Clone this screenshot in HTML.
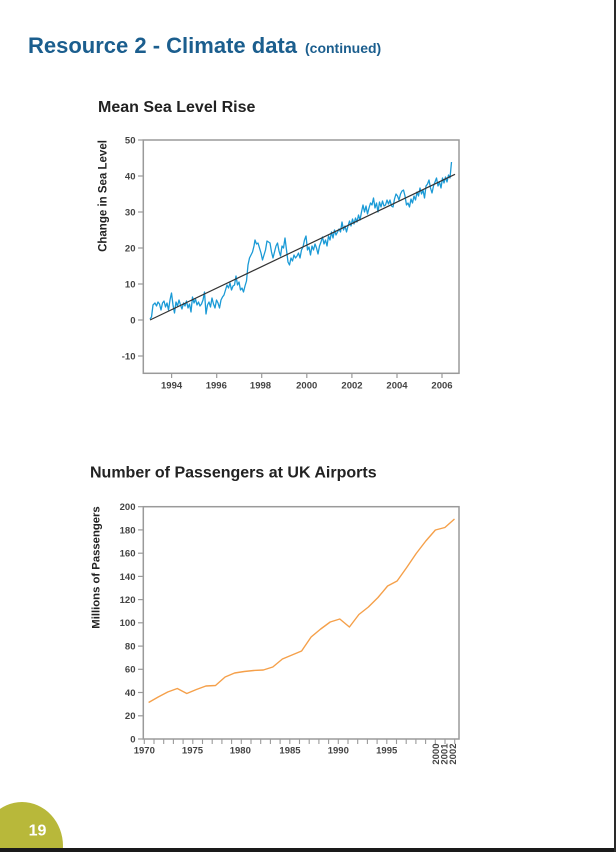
<!DOCTYPE html>
<html><head><meta charset="utf-8"><style>
html,body{margin:0;padding:0;background:#fff;}
svg{display:block;}
text{font-family:"Liberation Sans",sans-serif;}
</style></head><body>
<svg width="616" height="852" viewBox="0 0 616 852" xmlns="http://www.w3.org/2000/svg">
<rect width="616" height="852" fill="#fff"/>
<!-- Titles -->
<text x="28" y="53" font-size="22" font-weight="bold" fill="#1b5e8e">Resource 2 - Climate data</text>
<text x="305" y="53" font-size="14" font-weight="bold" fill="#1b5e8e">(continued)</text>
<text x="98" y="112" font-size="16" font-weight="bold" fill="#222">Mean Sea Level Rise</text>
<text x="90" y="477.5" font-size="16" font-weight="bold" fill="#222">Number of Passengers at UK Airports</text>

<!-- Chart 1 frame -->
<rect x="143.3" y="140" width="315.7" height="233.3" fill="none" stroke="#9a9a9a" stroke-width="1.5"/>
<g stroke="#9a9a9a" stroke-width="1.2">
<line x1="138" y1="140" x2="143" y2="140"/><line x1="138" y1="176" x2="143" y2="176"/>
<line x1="138" y1="212" x2="143" y2="212"/><line x1="138" y1="248" x2="143" y2="248"/>
<line x1="138" y1="284" x2="143" y2="284"/><line x1="138" y1="320" x2="143" y2="320"/>
<line x1="138" y1="356" x2="143" y2="356"/>
<line x1="171.6" y1="373" x2="171.6" y2="378"/><line x1="216.7" y1="373" x2="216.7" y2="378"/>
<line x1="261.7" y1="373" x2="261.7" y2="378"/><line x1="306.8" y1="373" x2="306.8" y2="378"/>
<line x1="351.9" y1="373" x2="351.9" y2="378"/><line x1="397" y1="373" x2="397" y2="378"/>
<line x1="442" y1="373" x2="442" y2="378"/>
</g>
<g font-size="9.5" font-weight="bold" fill="#444" text-anchor="end">
<text x="135.5" y="143.4">50</text><text x="135.5" y="179.4">40</text>
<text x="135.5" y="215.4">30</text><text x="135.5" y="251.4">20</text>
<text x="135.5" y="287.4">10</text><text x="135.5" y="323.4">0</text>
<text x="135.5" y="359.4">-10</text>
</g>
<g font-size="9.5" font-weight="bold" fill="#444" text-anchor="middle">
<text x="171.6" y="388.5">1994</text><text x="216.3" y="388.5">1996</text>
<text x="260.5" y="388.5">1998</text><text x="306.7" y="388.5">2000</text>
<text x="352" y="388.5">2002</text><text x="397" y="388.5">2004</text>
<text x="442" y="388.5">2006</text>
</g>
<text transform="translate(106.5,196) rotate(-90)" font-size="11.5" font-weight="bold" fill="#222" text-anchor="middle">Change in Sea Level</text>

<polyline fill="none" stroke="#1a9ad6" stroke-width="1.3" stroke-linejoin="round" points="150,319 151.5,317 153,305 155,303 156.5,306 158,302 159.5,304 161,310 162.5,303 164,301 165.5,307 167,303 168.5,310 170,300 171.5,293 173,305 174.5,313 176,302 177.5,306 179,300 180.5,305 182,309 183.5,303 185,306 186.5,301 188,308 189.5,304 191,312 192.5,297 194,303 195.5,299 197,305 198.5,302 200,306 201.5,304 203,300 204.5,292 206,314 207.5,305 209,302 210.5,307 212,298 213.5,304 215,308 216.5,300 218,303 219.5,308 221,300 222.5,297 224,295 225.5,290 227,285 228.5,288 230,283 231.5,290 233,286 234.5,285 236,276 237.5,285 239,282 240.5,290 242,288 243.5,292 245,286 246.5,281 248,265 249.5,258 251,255 252.5,252 254,246 255,240 256.5,244 258,243 259.5,248 261,253 262.5,260 264,255 265.5,250 267,241 268.5,242 270,243 271.5,252 273,258 274.5,252 276,246 277.5,243 279,251 280.5,256 282,246 283.5,248 285,238 286.5,250 288,262 289.5,265 291,258 292.5,261 294,255 295.5,258 297,256 298.5,253 300,258 301.5,250 303,247 304.5,240 306,236 307.5,250 309,247 310.5,255 312,246 313.5,250 315,244 316.5,248 318,254 319.5,246 321,242 322.5,237 324,244 325.5,240 327,246 328.5,236 330,240 331.5,232 333,238 334.5,230 336,235 337.5,232 339,229 340.5,232 342,222 343.5,230 345,226 346.5,232 348,226 349.5,221 351,226 352.5,219 354,224 355.5,218 357,222 358.5,215 360,220 361.5,212 363,205 364.5,212 366,206 367.5,214 369,208 370.5,203 372,205 373.5,198 375,208 376.5,203 378,212 379.5,202 381,207 382.5,201 384,206 385.5,205 387,200 388.5,204 390,200 391.5,206 393,207 394.5,199 396,194 397.5,196 399,200 400.5,194 402,191 403.5,190 405,196 406.5,205 408,203 409.5,207 411,199 412.5,203 414,196 415.5,200 417,192 418.5,196 420,188 421.5,194 423,190 424.5,198 426,186 427.5,184 429,180 430.5,188 432,193 433.5,186 435,182 436.5,178 438,186 439.5,182 441,188 442.5,178 444,183 445.5,177 447,182 448.5,175 450,178 451.5,162"/>
<line x1="150" y1="320" x2="455" y2="174.3" stroke="#333" stroke-width="1.2"/>

<!-- Chart 2 frame -->
<rect x="143.3" y="506.7" width="315.7" height="232.3" fill="none" stroke="#9a9a9a" stroke-width="1.5"/>
<g stroke="#9a9a9a" stroke-width="1.2">
<line x1="138" y1="506.7" x2="143" y2="506.7"/><line x1="138" y1="529.9" x2="143" y2="529.9"/>
<line x1="138" y1="553.2" x2="143" y2="553.2"/><line x1="138" y1="576.4" x2="143" y2="576.4"/>
<line x1="138" y1="599.6" x2="143" y2="599.6"/><line x1="138" y1="622.8" x2="143" y2="622.8"/>
<line x1="138" y1="646.1" x2="143" y2="646.1"/><line x1="138" y1="669.3" x2="143" y2="669.3"/>
<line x1="138" y1="692.5" x2="143" y2="692.5"/><line x1="138" y1="715.8" x2="143" y2="715.8"/>
<line x1="138" y1="739" x2="143" y2="739"/>
</g>
<g stroke="#9a9a9a" stroke-width="1.1">
<line x1="144.3" y1="739" x2="144.3" y2="744"/><line x1="154" y1="739" x2="154" y2="744"/><line x1="163.7" y1="739" x2="163.7" y2="744"/><line x1="173.4" y1="739" x2="173.4" y2="744"/><line x1="183.1" y1="739" x2="183.1" y2="744"/><line x1="192.8" y1="739" x2="192.8" y2="744"/><line x1="202.5" y1="739" x2="202.5" y2="744"/><line x1="212.2" y1="739" x2="212.2" y2="744"/><line x1="221.9" y1="739" x2="221.9" y2="744"/><line x1="231.6" y1="739" x2="231.6" y2="744"/><line x1="241.3" y1="739" x2="241.3" y2="744"/><line x1="251" y1="739" x2="251" y2="744"/><line x1="260.7" y1="739" x2="260.7" y2="744"/><line x1="270.4" y1="739" x2="270.4" y2="744"/><line x1="280.1" y1="739" x2="280.1" y2="744"/><line x1="289.8" y1="739" x2="289.8" y2="744"/><line x1="299.5" y1="739" x2="299.5" y2="744"/><line x1="309.2" y1="739" x2="309.2" y2="744"/><line x1="318.9" y1="739" x2="318.9" y2="744"/><line x1="328.6" y1="739" x2="328.6" y2="744"/><line x1="338.3" y1="739" x2="338.3" y2="744"/><line x1="348" y1="739" x2="348" y2="744"/><line x1="357.7" y1="739" x2="357.7" y2="744"/><line x1="367.4" y1="739" x2="367.4" y2="744"/><line x1="377.1" y1="739" x2="377.1" y2="744"/><line x1="386.8" y1="739" x2="386.8" y2="744"/><line x1="396.5" y1="739" x2="396.5" y2="744"/><line x1="406.2" y1="739" x2="406.2" y2="744"/><line x1="415.9" y1="739" x2="415.9" y2="744"/><line x1="425.6" y1="739" x2="425.6" y2="744"/><line x1="435.3" y1="739" x2="435.3" y2="744"/><line x1="445" y1="739" x2="445" y2="744"/><line x1="454.7" y1="739" x2="454.7" y2="744"/>
</g>
<g font-size="9.5" font-weight="bold" fill="#444" text-anchor="end">
<text x="135.5" y="510.1">200</text><text x="135.5" y="533.3">180</text>
<text x="135.5" y="556.6">160</text><text x="135.5" y="579.8">140</text>
<text x="135.5" y="603">120</text><text x="135.5" y="626.2">100</text>
<text x="135.5" y="649.5">80</text><text x="135.5" y="672.7">60</text>
<text x="135.5" y="695.9">40</text><text x="135.5" y="719.2">20</text>
<text x="135.5" y="742.4">0</text>
</g>
<g font-size="9.5" font-weight="bold" fill="#444" text-anchor="middle">
<text x="144.3" y="753.5">1970</text><text x="192.5" y="753.5">1975</text>
<text x="240.3" y="753.5">1980</text><text x="290" y="753.5">1985</text>
<text x="338.3" y="753.5">1990</text><text x="386.7" y="753.5">1995</text>
</g>
<g font-size="9.5" font-weight="bold" fill="#444" text-anchor="end">
<text transform="translate(439.2,743.5) rotate(-90)">2000</text>
<text transform="translate(447.6,743.5) rotate(-90)">2001</text>
<text transform="translate(456.2,743.5) rotate(-90)">2002</text>
</g>
<text transform="translate(99.5,567.5) rotate(-90)" font-size="11.3" font-weight="bold" fill="#222" text-anchor="middle">Millions of Passengers</text>

<polyline fill="none" stroke="#f5a04a" stroke-width="1.4" stroke-linejoin="round" points="148.6,702.5 158.2,697 167.7,692 177.3,688.5 186.8,693.5 196.4,689.5 205.9,686 215.5,685.5 225.1,677 234.6,673 244.2,671.5 253.7,670.5 263.3,670 272.8,667 282.4,659 292,655 301.6,651 311.1,637 320.7,629 330.2,622 339.8,619 349.4,627 358.9,614.5 368.4,607 378,597.5 387.6,586 397.1,581 406.7,567.5 416.2,553.5 425.8,541 435.4,530 444.9,527.5 454.5,519"/>

<!-- Page number badge -->
<ellipse cx="22" cy="846" rx="41" ry="44" fill="#b8b83a"/>
<text x="37.5" y="835.5" font-size="16" font-weight="bold" fill="#fff" text-anchor="middle">19</text>

<!-- Edges -->
<rect x="0" y="848" width="616" height="4" fill="#1a1a1a"/>
<rect x="614" y="0" width="2" height="852" fill="#2a2a2a"/>
</svg>
</body></html>
